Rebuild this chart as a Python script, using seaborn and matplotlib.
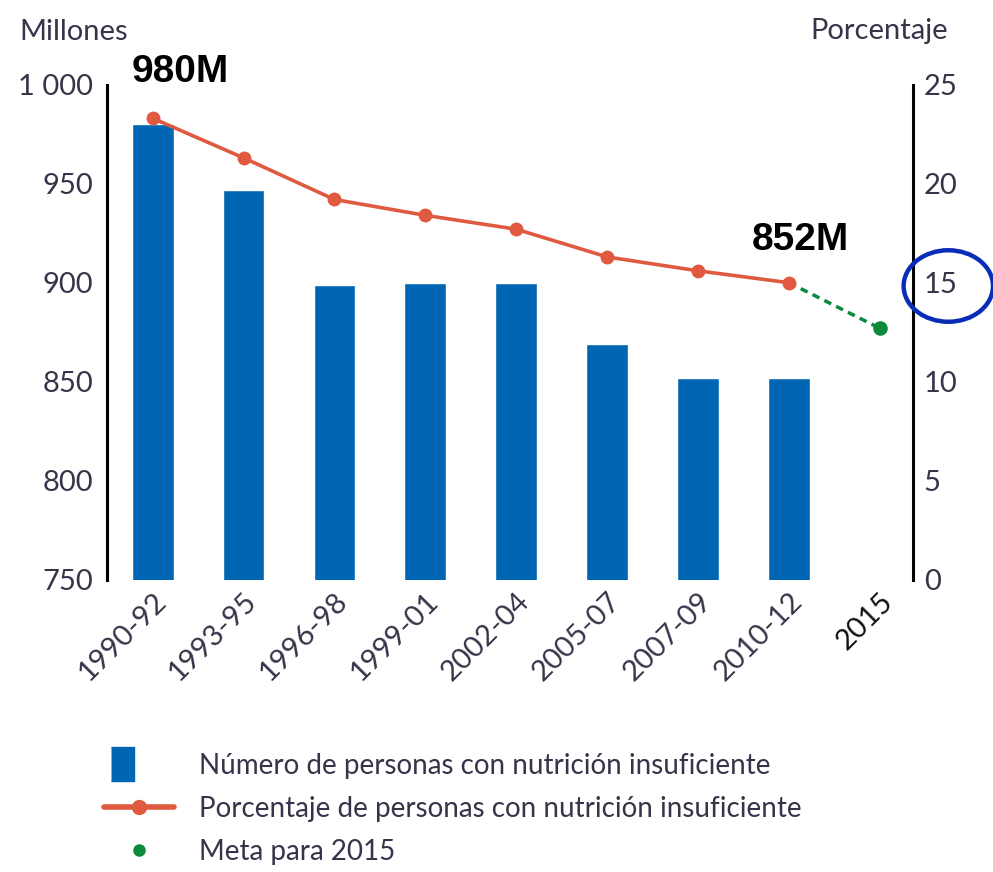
import matplotlib
matplotlib.use('Agg')

import numpy as np
import pandas as pd
import matplotlib.pyplot as plt
import seaborn as sns
from matplotlib.lines import Line2D
from matplotlib.patches import Ellipse

# data
periods = ['1990-92', '1993-95', '1996-98', '1999-01', '2002-04',
           '2005-07', '2007-09', '2010-12', '2015']
millions = [980, 947, 899, 900, 900, 869, 852, 852]
percent = [23.3, 21.3, 19.2, 18.4, 17.7, 16.3, 15.6, 15.0]
goal_2015 = 12.7

left_ticks = [750, 800, 850, 900, 950, 1000]
left_labels = ['750', '800', '850', '900', '950', '1 000']
right_ticks = [0, 5, 10, 15, 20, 25]

legend_labels = ['Número de personas con nutrición insuficiente',
                 'Porcentaje de personas con nutrición insuficiente',
                 'Meta para 2015']

BLUE = '#0066b3'
RED = '#e05a40'
GREEN = '#0a8a3a'
TXT = '#35354a'

sns.set_style('white')
plt.rcParams['font.family'] = ['Lato', 'DejaVu Sans']
plt.rcParams['font.weight'] = 'normal'

bars_df = pd.DataFrame({'period': periods[:len(millions)], 'millions': millions})
line_df = pd.DataFrame({'pos': np.arange(len(percent)), 'pct': percent})
goal_df = pd.DataFrame({'pos': [len(percent) - 1, len(periods) - 1],
                        'pct': [percent[-1], goal_2015]})

fig = plt.figure(figsize=(9.93, 8.72), dpi=100)
ax = fig.add_axes([0.108, 0.335, 0.811, 0.568])
XLIM = (-0.5, 8.36)

sns.barplot(data=bars_df, x='period', y='millions', order=periods,
            color=BLUE, width=0.46, saturation=1, ax=ax)
ax.set_ylim(750, 1000)
ax.set_xlim(*XLIM)
ax.set_yticks(left_ticks)
ax.set_yticklabels(left_labels)
ax.set_xticks(range(len(periods)))
ax.set_xticklabels(periods, rotation=45, ha='right', rotation_mode='anchor')
ax.set_xlabel('')
ax.set_ylabel('')

ax2 = ax.twinx()
sns.lineplot(data=goal_df, x='pos', y='pct', ax=ax2, color=GREEN,
             linewidth=2.5, linestyle=(0, (2.2, 1.6)))
sns.lineplot(data=line_df, x='pos', y='pct', ax=ax2, color=RED,
             linewidth=2.6, marker='o', markersize=10, markeredgewidth=0)
sns.scatterplot(data=goal_df.iloc[[1]], x='pos', y='pct', ax=ax2,
                color=GREEN, s=110, linewidth=0)
ax2.set_ylim(0, 25)
ax2.set_yticks(right_ticks)
ax2.set_xlim(*XLIM)
ax2.set_xlabel('')
ax2.set_ylabel('')

for a in (ax, ax2):
    for s in ('top', 'bottom'):
        a.spines[s].set_visible(False)
    a.tick_params(length=0, labelsize=21, colors=TXT)
ax.spines['left'].set_linewidth(2.2)
ax.spines['left'].set_color('black')
ax.spines['right'].set_visible(False)
ax2.spines['left'].set_visible(False)
ax2.spines['right'].set_linewidth(2.2)
ax2.spines['right'].set_color('black')
ax.tick_params(axis='y', pad=10)
ax2.tick_params(axis='y', pad=8)
ax.tick_params(axis='x', labelsize=21, pad=6)
ax.get_xticklabels()[-1].set_color('#111111')

# axis titles
fig.text(0.02, 0.963, 'Millones', fontsize=21, color=TXT, va='center', ha='left')
fig.text(0.955, 0.965, 'Porcentaje', fontsize=21, color=TXT, va='center', ha='right')

# callouts
ax.annotate('980M', xy=(0, millions[0]), xytext=(0.3, 1006.5), ha='center',
            va='center', fontsize=28, fontweight='bold', color='black',
            family='Liberation Sans', annotation_clip=False)
ax.annotate('852M', xy=(7, millions[-1]), xytext=(7.13, 921.7), ha='center',
            va='center', fontsize=28, fontweight='bold', color='black',
            family='Liberation Sans')

# highlight circle round the 15 % tick
ring = Ellipse((0.955, 1 - 286 / 872), 0.09, 0.082, transform=fig.transFigure,
               fill=False, edgecolor='#0a2db8', linewidth=3.2, clip_on=False)
fig.patches.append(ring)

# bar swatch sits at the left of the handle box, like the original
swatch = [(-0.85, -0.5), (-0.15, -0.5), (-0.15, 0.5), (-0.85, 0.5)]
handles = [
    Line2D([], [], marker=swatch, linestyle='none', markersize=41, color=BLUE),
    Line2D([], [], color=RED, linewidth=4, marker='o', markersize=10),
    Line2D([], [], marker='o', linestyle='none', markersize=8, color=GREEN),
]
fig.legend(handles, legend_labels, loc='upper left', bbox_to_anchor=(0.105, 0.137),
           frameon=False, fontsize=20, labelspacing=0.62, handlelength=2.5,
           handletextpad=0.9, borderpad=0, borderaxespad=0, labelcolor=TXT)

plt.savefig('out.png', dpi=100)
